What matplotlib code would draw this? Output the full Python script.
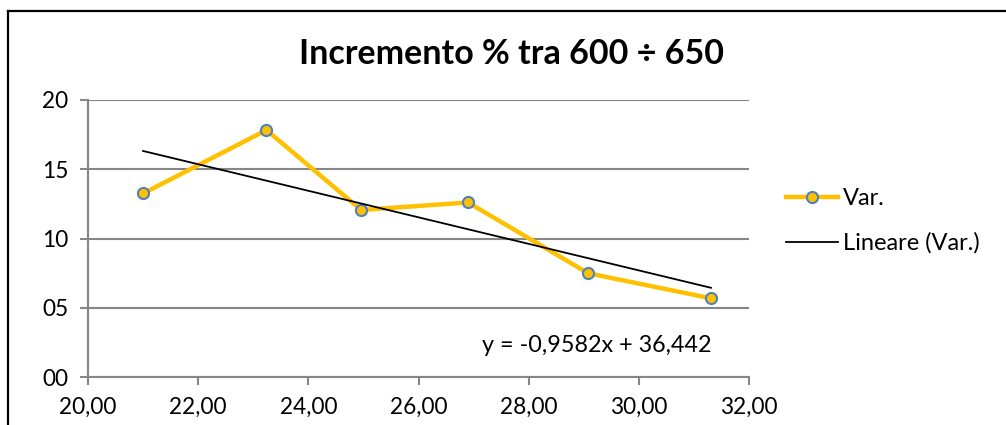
import matplotlib.pyplot as plt
from matplotlib.lines import Line2D
import numpy as np

# Dati
x_vals = [21.0, 23.24, 24.96, 26.9, 29.08, 31.31]
y_vals = [13.25, 17.83, 12.06, 12.6, 7.49, 5.68]
slope = -0.9582
intercept = 36.442
title = "Incremento % tra 600 ÷ 650"
x_ticks = [20, 22, 24, 26, 28, 30, 32]
y_ticks = [0, 5, 10, 15, 20]

plt.rcParams["font.family"] = ["Lato", "DejaVu Sans"]

fig = plt.figure(figsize=(10.06, 4.25), dpi=100)
ax = fig.add_axes([88 / 1006, 1 - 377 / 425, (749 - 88) / 1006, (377 - 100) / 425])

grid_col = "#868686"
yellow = "#FFC000"
blue = "#4F81BD"

# Linea dei dati
ax.plot(x_vals, y_vals, color=yellow, linewidth=3.2, marker="o", markersize=8,
        markerfacecolor=yellow, markeredgecolor=blue, markeredgewidth=1.5,
        label="Var.", zorder=3, solid_joinstyle="miter")

# Linea di tendenza
xt = np.array([x_vals[0], x_vals[-1]])
ax.plot(xt, slope * xt + intercept, color="black", linewidth=1.3,
        label="Lineare (Var.)", zorder=4)

ax.set_xlim(20, 32)
ax.set_ylim(0, 20)
ax.set_xticks(x_ticks)
ax.set_xticklabels([f"{v:.2f}".replace(".", ",") for v in x_ticks])
ax.set_yticks(y_ticks)
ax.set_yticklabels([f"{v:02d}" for v in y_ticks])

for s in ["top", "right"]:
    ax.spines[s].set_visible(False)
for s in ["left", "bottom"]:
    ax.spines[s].set_color(grid_col)
    ax.spines[s].set_linewidth(1.5)

ax.yaxis.grid(True, color=grid_col, linewidth=1.5)
ax.set_axisbelow(True)
ax.tick_params(axis="both", colors=grid_col, labelcolor="black", labelsize=16.3,
               width=1.5, length=6, direction="out")
ax.tick_params(axis="x", pad=8)
ax.tick_params(axis="y", pad=8)

fig.text(512 / 1006, 1 - 54 / 425, title, fontsize=24.5, fontweight="bold",
         ha="center", va="center")

ax.text(597 / 1006, 1 - 345 / 425, "y = -0,9582x + 36,442", fontsize=16.8,
        ha="center", va="center", transform=fig.transFigure)

ax.legend(loc="center left", bbox_to_anchor=(765 / 1006, 1 - 221 / 425),
          bbox_transform=fig.transFigure, frameon=False, fontsize=17,
          handlelength=2.2, handletextpad=0.2, labelspacing=1.0)

# Cornice esterna
fig.add_artist(Line2D([8 / 1006, 1], [1 - 11 / 425, 1 - 11 / 425],
                      transform=fig.transFigure, color="black", linewidth=1.6))
fig.add_artist(Line2D([8 / 1006, 8 / 1006], [0, 1 - 11 / 425],
                      transform=fig.transFigure, color="black", linewidth=1.6))

fig.savefig("out.png", dpi=100)
